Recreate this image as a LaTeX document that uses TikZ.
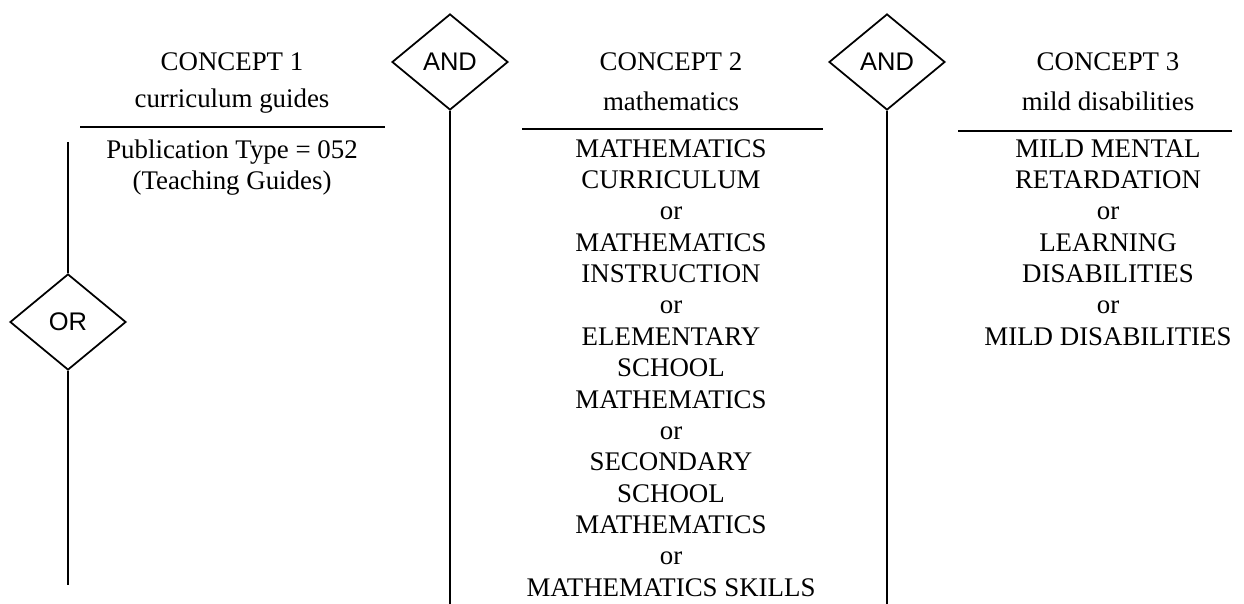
\documentclass[tikz,border=0pt]{standalone}
\usepackage{fontspec}
\setmainfont{Liberation Serif}
\setsansfont{Liberation Sans}
\usepackage{tikz}
\usetikzlibrary{shapes.geometric}

\tikzset{
  gate/.style={diamond, draw, line width=1pt, inner sep=0pt, minimum width=2.32cm,
    minimum height=1.92cm, font=\sffamily\fontsize{14.5}{15}\selectfont},
  head/.style={font=\fontsize{15.3}{17}\selectfont, inner sep=0pt},
  terms/.style={font=\fontsize{15.3}{17.85}\selectfont, align=center, inner sep=0pt, anchor=north},
  rule/.style={line width=1pt},
  stem/.style={line width=1.3pt}
}

\begin{document}
\begin{tikzpicture}[x=0.02cm, y=-0.02cm]
            % Fixed Bounding Box for alignment
            \useasboundingbox (0,0) rectangle (1244,604);

            % Operators
            \node[gate] (or) at (68,322) {OR};
            \node[gate] (andA) at (450,62) {AND};
            \node[gate] (andB) at (887,62) {AND};

            % Free ends of the stems
            \coordinate (orTop) at (68,142);
            \coordinate (orEnd) at (68,585);
            \coordinate (andAEnd) at (450,604);
            \coordinate (andBEnd) at (887,604);

            \draw[stem] (orTop) -- (or.north);
            \draw[stem] (or.south) -- (orEnd);
            \draw[stem] (andA.south) -- (andAEnd);
            \draw[stem] (andB.south) -- (andBEnd);

            % Concept 1
            \node[head] (cA) at (232,62) {CONCEPT 1};
            \node[head] (kA) at (232,101) {curriculum guides};
            \draw[rule] (80,127) -- (385,127);
            \node[terms] (tA) at (232,139) {Publication Type = 052\\(Teaching Guides)};

            % Concept 2
            \node[head] (cB) at (671,62) {CONCEPT 2};
            \node[head] (kB) at (671,101) {mathematics};
            \draw[rule] (522,129) -- (823,129);
            \node[terms] (tB) at (671,139) {MATHEMATICS\\CURRICULUM\\or\\MATHEMATICS\\INSTRUCTION\\or\\ELEMENTARY\\SCHOOL\\MATHEMATICS\\or\\SECONDARY\\SCHOOL\\MATHEMATICS\\or\\MATHEMATICS SKILLS};

            % Concept 3
            \node[head] (cC) at (1108,62) {CONCEPT 3};
            \node[head] (kC) at (1108,101) {mild disabilities};
            \draw[rule] (958,131) -- (1232,131);
            \node[terms] (tC) at (1108,139) {MILD MENTAL\\RETARDATION\\or\\LEARNING\\DISABILITIES\\or\\MILD DISABILITIES};
        \end{tikzpicture}
\end{document}
